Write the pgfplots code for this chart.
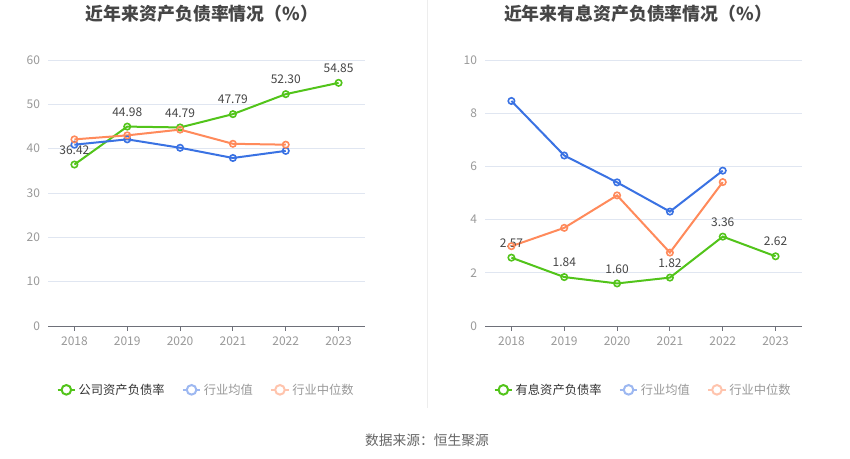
\documentclass[border=0pt]{standalone}
\usepackage{fontspec}
\setmainfont{Noto Sans CJK SC}
\usepackage{pgfplots}
\pgfplotsset{compat=1.18}
\definecolor{cgreen}{HTML}{52C41A}
\definecolor{cblue}{HTML}{3A72E3}
\definecolor{corange}{HTML}{FF8A5B}
\definecolor{lblue}{HTML}{9DB8F1}
\definecolor{lorange}{HTML}{FFC4AD}
\definecolor{gridc}{HTML}{E0E6F1}
\definecolor{tickc}{HTML}{999999}
\definecolor{axisc}{HTML}{6E7079}
\definecolor{titlec}{HTML}{464646}
\definecolor{labc}{HTML}{464646}

\pgfplotsset{
  mystyle/.style={
    scale only axis, width=237.75pt, height=199.5pt,
    xmin=-0.5, xmax=5.5, ymin=0,
    xtick={0,1,2,3,4,5}, xticklabels={2018,2019,2020,2021,2022,2023},
    axis lines*=left,
    y axis line style={draw=none},
    x axis line style={draw=axisc, line width=0.75pt},
    ytick style={draw=none},
    xtick style={draw=axisc, line width=0.75pt},
    xtick align=outside, major tick length=3.5pt,
    ymajorgrids, grid style={gridc, line width=0.75pt},
    tick label style={font=\fontsize{9}{10}\selectfont, text=tickc},
    yticklabel style={xshift=-2.5pt},
    xticklabel style={yshift=-1pt},
    /pgf/number format/assume math mode=true,
    clip=false,
    legend columns=-1,
    legend style={draw=none, fill=none, at={(0.5,-0.24)}, anchor=center,
      font=\fontsize{9.2}{10}\selectfont,
      /tikz/every even column/.append style={column sep=11pt},
      inner sep=0pt},
  },
  ser/.style={line width=1.5pt, color=#1, mark=o, mark size=2.4pt,
    mark options={fill=white, line width=1.2pt, solid}},
  limg/.style={legend image code/.code={
    \draw[#1, line width=1.5pt] (0pt,0pt) -- (13pt,0pt);
    \draw[#1, line width=1.5pt, fill=white] (6.5pt,0pt) circle (3.6pt);}},
  lab/.style={nodes near coords={\pgfmathprintnumber[fixed,precision=2,fixed zerofill]{\pgfplotspointmeta}},
    point meta=y,
    every node near coord/.append style={font=\fontsize{9}{10}\selectfont, text=labc, anchor=center, yshift=11pt}},
}

\begin{document}
\begin{tikzpicture}
\useasboundingbox (0pt,0pt) rectangle (637.5pt,343.5pt);
\fill[white] (0pt,0pt) rectangle (637.5pt,343.5pt);
\draw[color=black!7, line width=0.75pt] (320.25pt,343.5pt) -- (320.25pt,37.5pt);
\node[font=\bfseries\fontsize{13.4}{15}\selectfont, text=titlec] at (151.5pt,333pt) {近年来资产负债率情况（\%）};
\node[font=\bfseries\fontsize{13.4}{15}\selectfont, text=titlec] at (478.5pt,333pt) {近年来有息资产负债率情况（\%）};
\node[font=\fontsize{10.3}{11}\selectfont, text=black!60] at (320.25pt,13.5pt) {数据来源：恒生聚源};

\begin{axis}[mystyle, at={(36pt,99pt)}, anchor=south west, ymax=60, ytick={0,10,...,60}]
\addplot[ser=cgreen, limg=cgreen, lab] coordinates {(0,36.42) (1,44.98) (2,44.79) (3,47.79) (4,52.30) (5,54.85)};
\addlegendentry{\textcolor{black!80}{公司资产负债率}}
\addplot[ser=cblue, limg=lblue] coordinates {(0,40.9) (1,42.1) (2,40.2) (3,37.9) (4,39.5)};
\addlegendentry{\textcolor{tickc}{行业均值}}
\addplot[ser=corange, limg=lorange] coordinates {(0,42.1) (1,43.0) (2,44.3) (3,41.1) (4,40.9)};
\addlegendentry{\textcolor{tickc}{行业中位数}}
\end{axis}

\begin{axis}[mystyle, at={(363.75pt,99pt)}, anchor=south west, ymax=10, ytick={0,2,...,10}]
\addplot[ser=cgreen, limg=cgreen, lab] coordinates {(0,2.57) (1,1.84) (2,1.60) (3,1.82) (4,3.36) (5,2.62)};
\addlegendentry{\textcolor{black!80}{有息资产负债率}}
\addplot[ser=cblue, limg=lblue] coordinates {(0,8.46) (1,6.41) (2,5.40) (3,4.30) (4,5.84)};
\addlegendentry{\textcolor{tickc}{行业均值}}
\addplot[ser=corange, limg=lorange] coordinates {(0,3.00) (1,3.69) (2,4.91) (3,2.76) (4,5.41)};
\addlegendentry{\textcolor{tickc}{行业中位数}}
\end{axis}
\end{tikzpicture}
\end{document}
